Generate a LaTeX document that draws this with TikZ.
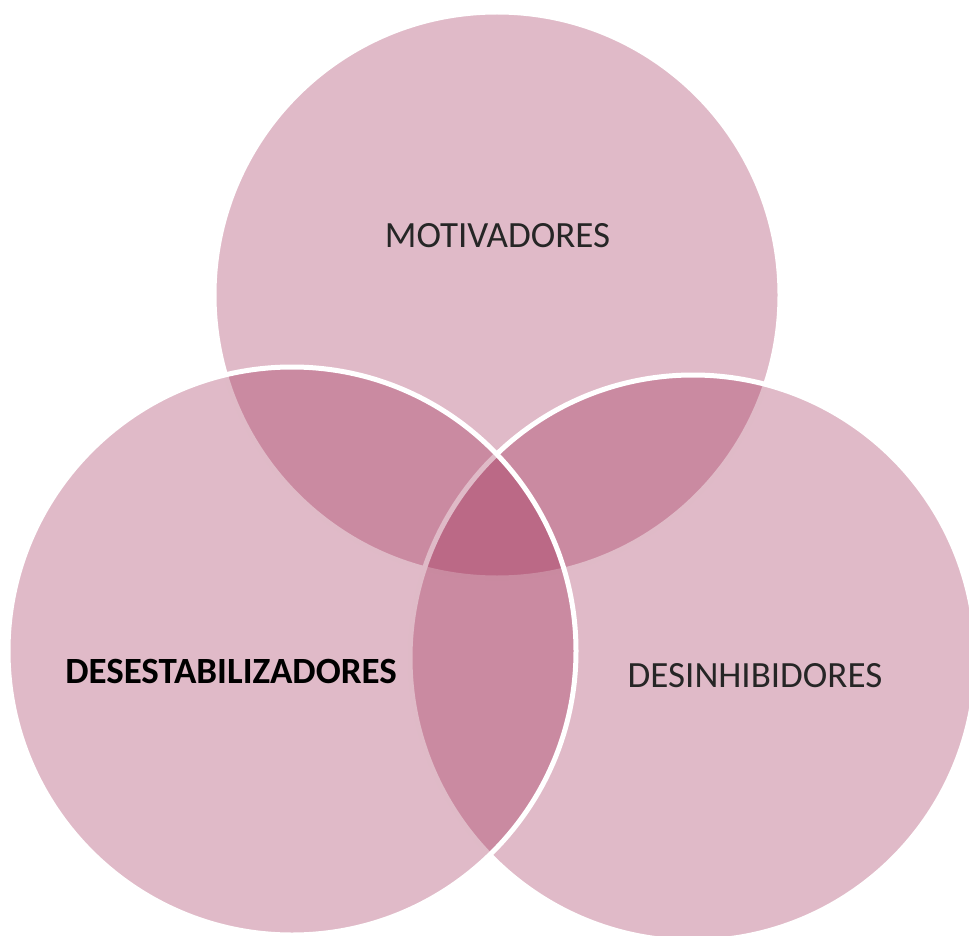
\documentclass[tikz,border=0pt]{standalone}
\usepackage{fontspec}
\setmainfont{Carlito}
\definecolor{petal}{RGB}{152,28,72}
\definecolor{labelgray}{RGB}{38,38,38}
\tikzset{
  venn/.style={circle, minimum size=566pt, inner sep=0pt, fill=petal, fill opacity=0.3, draw=white, draw opacity=1, line width=5pt},
  lbl/.style={inner sep=0pt, text=labelgray, font=\fontsize{37}{42}\selectfont},
  lblbold/.style={inner sep=0pt, text=black, font=\fontsize{37}{42}\selectfont\bfseries}
}
\begin{document}
\begin{tikzpicture}[x=1pt,y=-1pt]
\path[use as bounding box] (0,0) rectangle (969,936);
\node[venn] (top) at (497,295) {};
\node[venn] (right) at (693,658) {};
\node[venn, minimum size=568pt] (left) at (292,651) {};
\node[lbl] (tmot) at (497.5,236) {MOTIVADORES};
\node[lblbold] (tdes) at (231,671) {DESESTABILIZADORES};
\node[lbl] (tdin) at (755,675.5) {DESINHIBIDORES};
\end{tikzpicture}
\end{document}
